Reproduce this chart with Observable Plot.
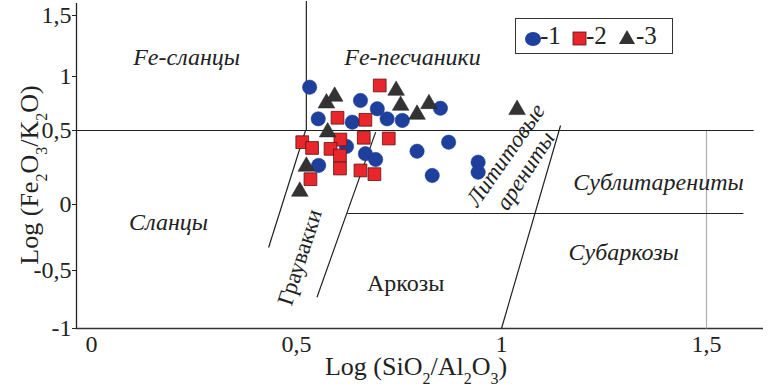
<!DOCTYPE html>
<html>
<head>
<meta charset="utf-8">
<script src="https://cdn.jsdelivr.net/npm/d3@7"></script>
<script src="https://cdn.jsdelivr.net/npm/@observablehq/plot@0.6"></script>
<style>
  body { margin: 0; background: #fff; }
  #wrap { position: relative; width: 769px; height: 385px; font-family: "Liberation Serif", serif; }
  #wrap svg text { font-family: "Liberation Serif", serif; }
  #legend { position: absolute; left: 515px; top: 18px; width: 158px; height: 36px; border: 1.5px solid #333;
            box-sizing: border-box; background: #fff; font-size: 25px; color: #222; line-height: 1; }
  #legend span { position: absolute; top: 4px; }
  #legend svg { position: absolute; top: 0; left: 0; }
</style>
</head>
<body>
<div id="wrap"></div>
<script>
// ---- data ----
const xTicks = [0, 0.5, 1, 1.5];
const yTicks = [-1, -0.5, 0, 0.5, 1, 1.5];

const s1x = [0.532, 0.553, 0.656, 0.697, 0.636, 0.721, 0.758, 0.851, 0.622, 0.668, 0.693, 0.794, 0.871, 0.554, 0.831, 0.943, 0.943];
const s1y = [0.901, 0.608, 0.778, 0.701, 0.577, 0.608, 0.593, 0.706, 0.392, 0.343, 0.304, 0.360, 0.421, 0.264, 0.196, 0.286, 0.218];

const s2x = [0.703, 0.600, 0.668, 0.514, 0.538, 0.607, 0.664, 0.725, 0.583, 0.606, 0.606, 0.656, 0.690, 0.534];
const s2y = [0.917, 0.618, 0.599, 0.421, 0.382, 0.439, 0.451, 0.446, 0.376, 0.331, 0.243, 0.230, 0.205, 0.171];

const s3x = [0.573, 0.593, 0.743, 0.754, 0.794, 0.823, 1.038, 0.576, 0.524, 0.508];
const s3y = [0.753, 0.815, 0.870, 0.731, 0.648, 0.747, 0.692, 0.489, 0.257, 0.088];

// classification boundaries [x1, y1, x2, y2]
const boundaries = [
  [-0.037, 0.5, 1.615, 0.5],
  [0.524, 0.5, 0.524, 1.62],
  [0.522, 0.5, 0.432, -0.326],
  [0.693, 0.489, 0.550, -0.730],
  [0.624, -0.068, 1.590, -0.068],
  [1.144, 0.546, 1.0, -1]
];
const grayBoundary = [[1.5, 0.5, 1.5, -1]];

// region names
const regionNames = ["Fe-сланцы", "Fe-песчаники", "Сланцы", "Сублитарениты", "Субаркозы", "Аркозы", "Граувакки", "Лититовые", "арениты"];
const regionX = [0.232, 0.783, 0.188, 1.383, 1.298, 0.766, 0.508, 1.010, 1.058];
const regionY = [1.156, 1.156, -0.136, 0.149, -0.364, -0.612, -0.40, 0.335, 0.228];
const regionItalic = [true, true, true, true, true, false, false, true, true];
const regionRotate = [0, 0, 0, 0, 0, 0, -72, -55, -57];

// ---- build ----
const pts = (xs, ys) => xs.map((x, i) => ({x, y: ys[i]}));
const segs = (arr) => arr.map(([x1, y1, x2, y2]) => ({x1, y1, x2, y2}));
const labels = regionNames.map((t, i) => ({t, x: regionX[i], y: regionY[i], it: regionItalic[i], r: regionRotate[i]}));
const fmt = d => String(d).replace(".", ",");
const font = "Liberation Serif";

const chart = Plot.plot({
  width: 769,
  height: 385,
  marginLeft: 76, marginRight: 6, marginTop: 3, marginBottom: 57,
  style: {fontFamily: font, background: "#fff", color: "#222"},
  x: {domain: [-0.0366, 1.639]},
  y: {type: "linear", domain: [-1, -0.5, 0, 0.5, 1, 1.5, 1.6], range: [328, 270, 204, 130, 76, 15, 3]},
  marks: [
    Plot.ruleX([-0.0366], {y1: -1, y2: 1.6, stroke: "#222", strokeWidth: 1.3}),
    Plot.ruleY([-1], {x1: -0.0366, x2: 1.639, stroke: "#333", strokeWidth: 1.3}),
    Plot.link(segs(grayBoundary), {x1: "x1", y1: "y1", x2: "x2", y2: "y2", stroke: "#b0b0b0", strokeWidth: 1.2}),
    Plot.link(segs(boundaries), {x1: "x1", y1: "y1", x2: "x2", y2: "y2", stroke: "#222", strokeWidth: 1.2}),
    Plot.axisY({ticks: yTicks, tickFormat: fmt, tickSize: 4, tickPadding: 1, fontSize: 24, label: null, fill: "#222"}),
    Plot.axisX({ticks: xTicks, tickFormat: fmt, tickSize: 0, tickPadding: 6, fontSize: 24, label: null, fill: "#222"}),
    Plot.text(labels.filter(d => !d.it && d.r === 0), {x: "x", y: "y", text: "t", fontSize: 24, fill: "#222"}),
    Plot.text(labels.filter(d => d.it && d.r === 0), {x: "x", y: "y", text: "t", fontSize: 24, fontStyle: "italic", fill: "#222"}),
    ...labels.filter(d => d.r !== 0).map(d =>
      Plot.text([d], {x: "x", y: "y", text: "t", fontSize: 23, rotate: d.r, fontStyle: d.it ? "italic" : "normal", fill: "#222"})),
    Plot.dot(pts(s1x, s1y), {x: "x", y: "y", r: 7.2, symbol: "circle", fill: "#1f3f9c", stroke: "#1f3f9c", strokeWidth: 0.5}),
    Plot.dot(pts(s2x, s2y), {x: "x", y: "y", r: 7.2, symbol: "square", fill: "#e8262b", stroke: "#5a1414", strokeWidth: 0.8}),
    Plot.dot(pts(s3x, s3y), {x: "x", y: "y", r: 6.2, symbol: "triangle", fill: "#333", stroke: "#222", strokeWidth: 0.5})
  ]
});

const wrap = document.getElementById("wrap");
wrap.appendChild(chart);

// axis titles with real subscripts
const svg = d3.select(chart);
function subLabel(g, parts) {
  parts.forEach(([txt, sub]) => {
    const t = g.append("tspan").text(txt);
    if (sub) t.attr("baseline-shift", "sub").attr("font-size", "16px");
  });
}
const yl = svg.append("text")
  .attr("transform", "translate(38,175) rotate(-90)")
  .attr("text-anchor", "middle").attr("font-size", 26).attr("fill", "#222")
  .attr("font-family", font);
subLabel(yl, [["Log (Fe"], ["2", 1], ["O"], ["3", 1], ["/K"], ["2", 1], ["O)"]]);
const xl = svg.append("text")
  .attr("transform", "translate(416,375)")
  .attr("text-anchor", "middle").attr("font-size", 26).attr("fill", "#222")
  .attr("font-family", font);
subLabel(xl, [["Log (SiO"], ["2", 1], ["/Al"], ["2", 1], ["O"], ["3", 1], [")"]]);

// legend
const legendNames = ["-1", "-2", "-3"];
const leg = document.createElement("div");
leg.id = "legend";
leg.innerHTML = `<svg width="158" height="36">
  <ellipse cx="17" cy="20" rx="8" ry="7" fill="#1f3f9c"/>
  <rect x="57" y="13" width="13" height="13" fill="#e8262b" stroke="#5a1414" stroke-width="0.8"/>
  <path d="M111,11 L119,25 L103,25 Z" fill="#333"/>
</svg>
<span style="left:24px">${legendNames[0]}</span>
<span style="left:70px">${legendNames[1]}</span>
<span style="left:120px">${legendNames[2]}</span>`;
wrap.appendChild(leg);
</script>
</body>
</html>
